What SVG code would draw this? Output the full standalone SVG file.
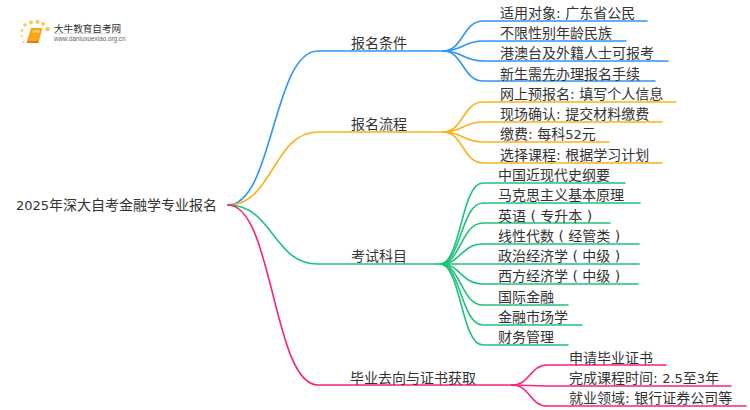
<svg xmlns="http://www.w3.org/2000/svg" width="750" height="410" viewBox="0 0 750 410">
<style>
text{font-family:"DejaVu Sans","Noto Sans CJK SC",sans-serif;font-size:14px;fill:#333}
tspan.d{font-size:13px}
.c path{fill:none;stroke-width:1.6;stroke-linecap:round}
.b path{stroke:#2f95f8}.o path{stroke:#fbb11e}.g path{stroke:#1fc27a}.p path{stroke:#f9217f}
</style>
<rect width="750" height="410" fill="#fff"/>
<g id="logo">
<g fill="#fbc55a"><circle cx="47.500" cy="29" r="2.300"/><circle cx="43" cy="24" r="1.900"/><circle cx="37.500" cy="22" r="2"/><circle cx="31" cy="22.500" r="2"/><circle cx="25" cy="25" r="1.700"/><circle cx="22" cy="30.500" r="1.300"/><circle cx="21.500" cy="36" r="1.100"/><circle cx="23.500" cy="42" r="1"/></g>
<path d="M31 28h11.500l-3.500 13h-12z" fill="#f9a61f"/><path d="M27 41h12l-.5 2h-11.500z" fill="#e8791a"/><path d="M33 30.500h7l-.5 2h-7z" fill="#fdd27a"/>
<text x="54" y="31.500" style="font-size:9.600px;font-family:'Noto Sans CJK SC',sans-serif">大牛教育自考网</text>
<rect x="54" y="33.300" width="68" height="0.600" fill="#ccc"/>
<text x="54" y="41" style="font-size:6.300px;font-family:'Liberation Sans',sans-serif;fill:#666">www.daniuxuexiao.org.cn</text>
</g>
<g id="connectors" class="c">
<g class="b">
<path d="M228 205C273 205 273 51 318 51H443"/>
<path d="M443 51C463 51 463 21 483 21H647"/><path d="M443 51C463 51 463 41 483 41H626"/><path d="M443 51C463 51 463 61 483 61H668"/><path d="M443 51C463 51 463 81 483 81H655"/>
</g>
<g class="o">
<path d="M228 205C273 205 273 132 318 132H443"/>
<path d="M443 132C463 132 463 102 483 102H676"/><path d="M443 132C463 132 463 122 483 122H662"/><path d="M443 132C463 132 463 142 483 142H609"/><path d="M443 132C463 132 463 163 483 163H662"/>
</g>
<g class="g">
<path d="M228 205C273 205 273 264 318 264H440"/>
<path d="M440 264C461 264 461 183 483 183H625"/><path d="M440 264C461 264 461 203 483 203H640"/><path d="M440 264C461 264 461 223 483 223H610"/><path d="M440 264C461 264 461 244 483 244H639"/><path d="M440 264H639"/><path d="M440 264C461 264 461 284 483 284H638"/><path d="M440 264C461 264 461 305 483 305H568"/><path d="M440 264C461 264 461 325 483 325H582"/><path d="M440 264C461 264 461 345 483 345H568"/>
</g>
<g class="p">
<path d="M228 205C273 205 273 385 318 385H512"/>
<path d="M512 385C530 385 530 365 547 365H666"/><path d="M512 385C530 385 530 386 547 386H731"/><path d="M512 385C530 385 530 406 547 406H746"/>
</g>
</g>
<g id="root"><text x="16" y="210"><tspan class="d">2025</tspan>年深大自考金融学专业报名</text></g>
<g id="n1"><text x="351" y="48">报名条件</text></g>
<g id="n2"><text x="351" y="129">报名流程</text></g>
<g id="n3"><text x="351" y="261">考试科目</text></g>
<g id="n4"><text x="350" y="383">毕业去向与证书获取</text></g>
<g id="l1"><text x="500" y="18">适用对象: 广东省公民</text></g>
<g id="l2"><text x="500" y="38">不限性别年龄民族</text></g>
<g id="l3"><text x="500" y="58">港澳台及外籍人士可报考</text></g>
<g id="l4"><text x="500" y="79">新生需先办理报名手续</text></g>
<g id="l5"><text x="500" y="99">网上预报名: 填写个人信息</text></g>
<g id="l6"><text x="500" y="119">现场确认: 提交材料缴费</text></g>
<g id="l7"><text x="500" y="139">缴费: 每科<tspan class="d">52</tspan>元</text></g>
<g id="l8"><text x="500" y="160">选择课程: 根据学习计划</text></g>
<g id="l9"><text x="498" y="180">中国近现代史纲要</text></g>
<g id="l10"><text x="498" y="200">马克思主义基本原理</text></g>
<g id="l11"><text x="498" y="221">英语 ( 专升本 )</text></g>
<g id="l12"><text x="498" y="241">线性代数 ( 经管类 )</text></g>
<g id="l13"><text x="498" y="261">政治经济学 ( 中级 )</text></g>
<g id="l14"><text x="498" y="281">西方经济学 ( 中级 )</text></g>
<g id="l15"><text x="498" y="302">国际金融</text></g>
<g id="l16"><text x="498" y="322">金融市场学</text></g>
<g id="l17"><text x="498" y="342">财务管理</text></g>
<g id="l18"><text x="569" y="363">申请毕业证书</text></g>
<g id="l19"><text x="569" y="383">完成课程时间: <tspan class="d">2.5</tspan>至<tspan class="d">3</tspan>年</text></g>
<g id="l20"><text x="569" y="403">就业领域: 银行证券公司等</text></g>
</svg>
